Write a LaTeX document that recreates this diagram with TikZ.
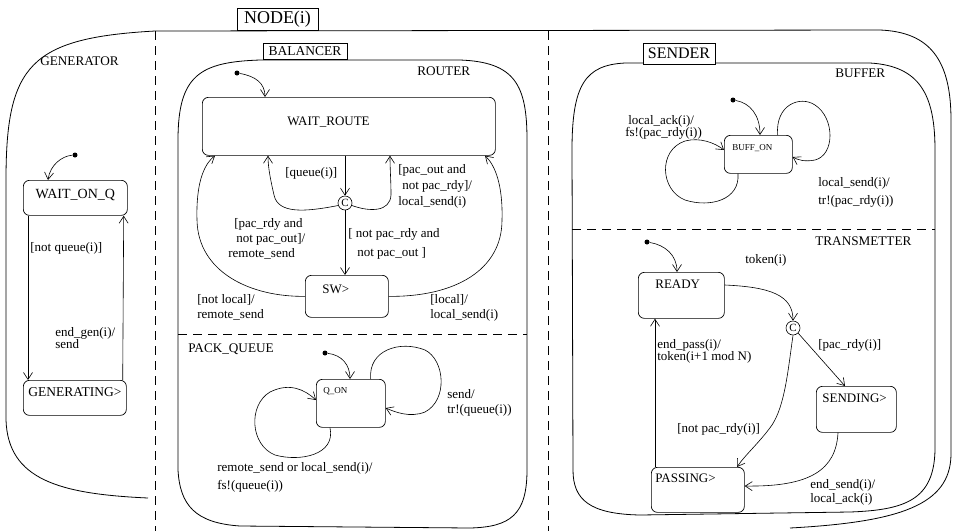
\documentclass[tikz,border=0pt]{standalone}
\usepackage{fontspec}
\setmainfont{Liberation Serif}
\usetikzlibrary{arrows.meta}
\newcommand{\lf}[2]{\fontsize{#1}{#2}\selectfont}
\begin{document}
\begin{tikzpicture}[x=1pt,y=-1pt,
  line width=0.7pt,
  tr/.style={-{Straight Barb[length=7pt,width=9pt]}, line width=0.6pt},
  region/.style={line width=0.8pt},
  sep/.style={dash pattern=on 9pt off 6pt, line width=0.6pt},
  state/.style={draw, rounded corners=6pt, inner sep=0pt, anchor=north west, font=\lf{13}{15}, line width=0.7pt},
  small/.style={font=\lf{9}{10}},
  tag/.style={draw, fill=white, inner sep=0pt, line width=0.7pt},
  lbl/.style={inner sep=0pt, anchor=base west, align=left},
  rlbl/.style={inner sep=0pt, anchor=base west, font=\lf{13.2}{14}},
  init/.style={circle, fill, inner sep=0pt, minimum size=5pt},
  junc/.style={circle, draw, fill=white, inner sep=0pt, minimum size=14pt, font=\lf{11}{12}, line width=0.6pt}
]
\fill[white] (0,0) rectangle (953,531);
\useasboundingbox (0,0) rectangle (953,531);

% ---------- containers ----------
\draw[region] (148,498) .. controls (60,494) and (8,480) .. (6,420) -- (6,180)
  .. controls (6,65) and (30,38) .. (155,31) -- (880,30)
  .. controls (930,32) and (951,60) .. (951,120) -- (951,455)
  .. controls (950,505) and (900,522) .. (790,528);
\draw[sep] (155,31) -- (155,531);
\draw[sep] (548,31) -- (548,531);

\draw[region] (178,470) -- (178,140) .. controls (178,75) and (200,62) .. (260,60) -- (460,60)
  .. controls (515,62) and (527,85) .. (527,140) -- (527,470)
  .. controls (527,515) and (510,527) .. (470,528) -- (240,526)
  .. controls (195,523) and (180,505) .. (178,470) -- cycle;
\draw[sep] (178,334) -- (527,334);

\draw[region] (573,470) -- (572,150) .. controls (572,85) and (585,65) .. (625,63) -- (870,63)
  .. controls (920,66) and (935,95) .. (935,150) -- (935,450)
  .. controls (934,500) and (905,510) .. (850,512) -- (640,515)
  .. controls (590,514) and (573,500) .. (573,470) -- cycle;
\draw[sep] (572,229) -- (935,229);

\node[tag, minimum width=81pt, minimum height=22pt, font=\lf{18}{18}] (nodei) at (277.5,19) {NODE(i)};
\node[tag, minimum width=84pt, minimum height=16pt, font=\lf{13.5}{14}] (bal) at (305,51) {BALANCER};
\node[tag, minimum width=72pt, minimum height=21pt, font=\lf{16}{16}] (snd) at (679,53.5) {SENDER};

\node[rlbl] (lgen) at (40,65) {GENERATOR};
\node[rlbl] (lrout) at (417,75) {ROUTER};
\node[rlbl] (lpq) at (188,352) {PACK\_QUEUE};
\node[rlbl] (lbuf) at (835,77) {BUFFER};
\node[rlbl] (ltx) at (815,245) {TRANSMETTER};

% ---------- states ----------
\node[state, font=\lf{14}{15}, minimum width=104pt, text width=104pt, align=center, text height=18pt, text depth=17pt] (woq) at (23,180) {WAIT\_ON\_Q};
\node[state, font=\lf{13.5}{15}, minimum width=103pt, text width=103pt, align=center, text height=16pt, text depth=19pt] (gen) at (23,380) {GENERATING>};
\node[state, minimum width=293pt, text width=123pt, align=left, text height=28pt, text depth=30pt] (wr) at (202,97) {WAIT\_ROUTE};
\node[state, minimum width=83pt, text width=49pt, align=left, text height=18pt, text depth=24pt] (sw) at (305,275) {SW>};
\node[state, small, minimum width=69pt, text width=55pt, align=left, text height=14pt, text depth=34pt] (qon) at (316,379) {Q\_ON};
\node[state, small, minimum width=68pt, text width=52pt, align=left, text height=15pt, text depth=23pt] (bon) at (724,135) {BUFF\_ON};
\node[state, minimum width=86pt, text width=52pt, align=left, text height=16pt, text depth=30pt] (ready) at (638,272) {READY};
\node[state, minimum width=80pt, text width=68pt, align=left, text height=16pt, text depth=30pt] (sending) at (816,386) {SENDING>};
\node[state, minimum width=93pt, text width=85pt, align=left, text height=15pt, text depth=30pt] (passing) at (651,467) {PASSING>};

\node[junc] (c1) at (345,203) {C};
\node[junc] (c2) at (793,328) {C};

\node[init] (i1) at (75,155) {};
\node[init] (i2) at (237,73) {};
\node[init] (i3) at (325,353) {};
\node[init] (i4) at (733,100) {};
\node[init] (i5) at (647,242) {};

% ---------- initial transitions ----------
\draw[tr] (i1) .. controls (62,156) and (50,165) .. ([xshift=25pt]woq.north west);
\draw[tr] (i2) .. controls (255,76) and (265,83) .. ([xshift=63pt]wr.north west);
\draw[tr] (i3) .. controls (342,355) and (350,365) .. ([xshift=34pt]qon.north west);
\draw[tr] (i4) .. controls (750,103) and (760,115) .. ([xshift=36pt]bon.north west);
\draw[tr] (i5) .. controls (665,245) and (677,255) .. ([xshift=39pt]ready.north west);

% ---------- generator ----------
\draw[tr] ([xshift=5pt]woq.south west) -- ([xshift=5pt]gen.north west);
\draw[tr] ([xshift=-4pt]gen.north east) -- ([xshift=-4pt]woq.south east);
\node[lbl, font=\lf{13}{12}] (t1) at (30,251) {[not queue(i)]};
\node[lbl, font=\lf{13}{12}] (t2) at (55,348) {end\_gen(i)/\\send};

% ---------- router ----------
\draw[tr] (c1 |- wr.south) -- (c1.north);
\draw[tr] (c1.200) .. controls (305,212) and (278,214) .. (274,195) .. controls (271,182) and (268,168) .. ([xshift=66pt]wr.south west);
\draw[tr] (c1.340) .. controls (370,212) and (390,212) .. (391,195) .. controls (391,180) and (390,170) .. ([xshift=188pt]wr.south west);
\draw[tr] (c1.south) -- (c1 |- sw.north);
\draw[tr] (sw.west) .. controls (250,297) and (198,272) .. (197,220) .. controls (196,185) and (203,165) .. ([xshift=13pt]wr.south west);
\draw[tr] (sw.east) .. controls (455,297) and (502,270) .. (502,220) .. controls (503,185) and (495,165) .. ([xshift=283pt]wr.south west);

\node[lbl, font=\lf{13}{12}] (t3) at (285,176) {[queue(i)]};
\node[lbl, font=\lf{13}{16}] (t4) at (398,205) {[pac\_out and\\\hspace*{4pt}not pac\_rdy]/\\local\_send(i)};
\node[lbl, font=\lf{13}{15}] (t5) at (234,257) {[pac\_rdy and\\\hspace*{2pt}not pac\_out]/\\\hspace*{-6pt}remote\_send};
\node[lbl, font=\lf{13}{19}] (t6) at (348,256) {[ not pac\_rdy and\\\hspace*{9pt}not pac\_out ]};
\node[lbl, font=\lf{13}{15}] (t7) at (197,318) {[not local]/\\remote\_send};
\node[lbl, font=\lf{13}{15}] (t8) at (430,318) {[local]/\\local\_send(i)};

% ---------- pack queue ----------
\draw[tr] ([xshift=14pt]qon.south west) .. controls (336,455) and (300,462) .. (275,455) .. controls (250,445) and (248,405) .. (270,392) .. controls (290,382) and (305,390) .. ([yshift=-21pt]qon.north west);
\draw[tr] ([xshift=-15pt]qon.north east) .. controls (368,350) and (400,340) .. (425,350) .. controls (445,360) and (448,400) .. (425,412) .. controls (410,418) and (395,412) .. ([yshift=-29pt]qon.north east);
\node[lbl, font=\lf{13}{18}] (t9) at (217,489) {remote\_send or local\_send(i)/\\fs!(queue(i))};
\node[lbl, font=\lf{13}{15}] (t10) at (447,413) {send/\\tr!(queue(i))};

% ---------- buffer ----------
\draw[tr] ([xshift=14pt]bon.south west) .. controls (740,200) and (710,208) .. (685,200) .. controls (660,190) and (658,150) .. (685,141) .. controls (700,137) and (715,143) .. ([yshift=-15pt]bon.north west);
\draw[tr] ([xshift=-15pt]bon.north east) .. controls (775,105) and (800,95) .. (815,105) .. controls (835,118) and (835,155) .. (815,160) .. controls (805,162) and (798,160) .. ([yshift=-22pt]bon.north east);
\node[lbl, font=\lf{13}{12}] (t11) at (628,136) {local\_ack(i)/\\\hspace*{-3pt}fs!(pac\_rdy(i))};
\node[lbl, font=\lf{13}{18}] (t12) at (818,204) {local\_send(i)/\\tr!(pac\_rdy(i))};

% ---------- transmetter ----------
\draw[tr] ([yshift=-13pt]ready.north east) .. controls (770,287) and (793,295) .. (c2.north);
\draw[tr] (c2.south east) -- ([xshift=29pt]sending.north west);
\draw[tr] (c2.south) .. controls (788,370) and (785,405) .. (772,425) .. controls (760,442) and (745,455) .. ([xshift=86pt]passing.north west);
\draw[tr] ([xshift=4pt]passing.north west) -- ([xshift=17pt]ready.south west);
\draw[tr] ([xshift=22pt]sending.south west) .. controls (836,470) and (810,487) .. ([yshift=-19pt]passing.north east);

\node[lbl, font=\lf{13}{12}] (t13) at (745,263) {token(i)};
\node[lbl, font=\lf{13}{12}] (t14) at (818,348) {[pac\_rdy(i)]};
\node[lbl, font=\lf{13}{12}] (t15) at (657,360) {end\_pass(i)/\\token(i+1 mod N)};
\node[lbl, font=\lf{13}{12}] (t16) at (677,432) {[not pac\_rdy(i)]};
\node[lbl, font=\lf{13}{14}] (t17) at (810,502) {end\_send(i)/\\local\_ack(i)};
\end{tikzpicture}
\end{document}
